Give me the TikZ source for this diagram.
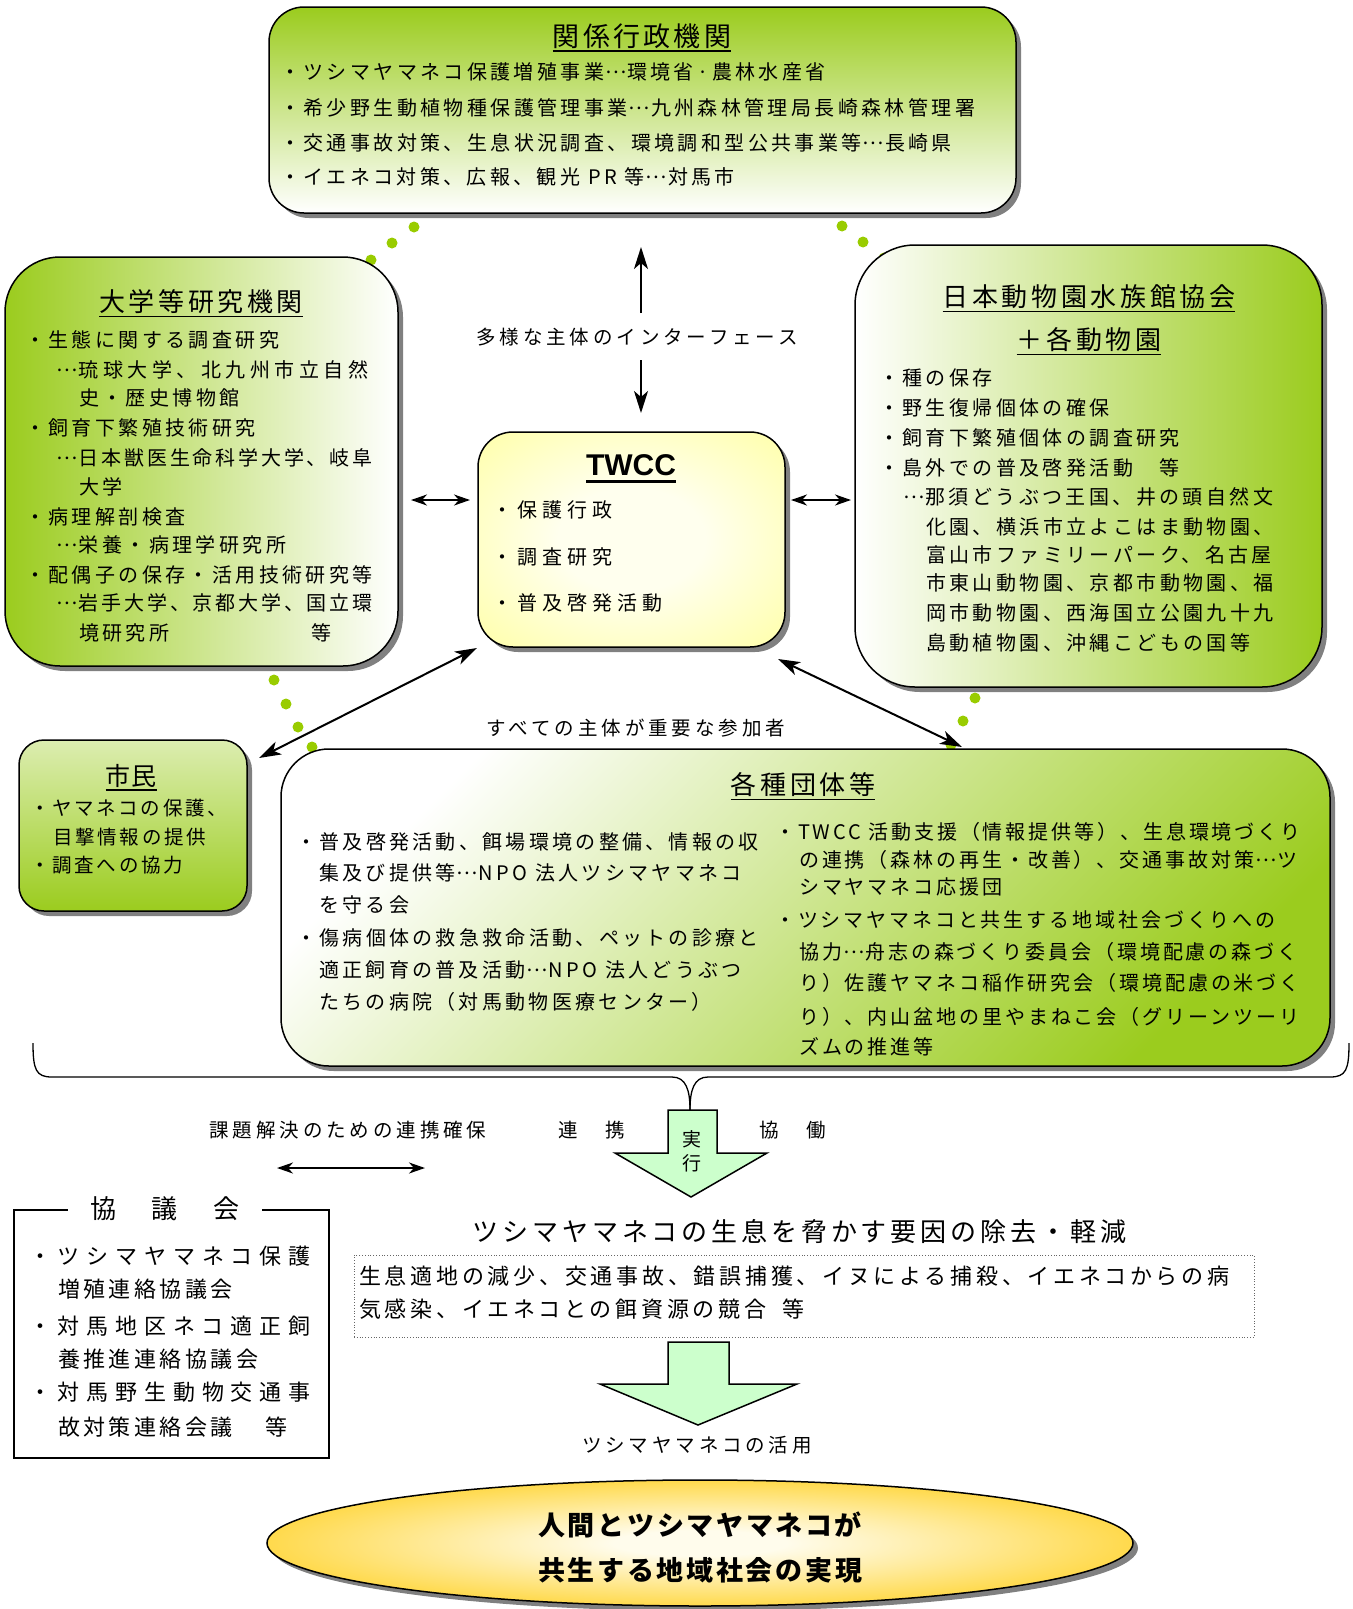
\documentclass[tikz,border=0pt]{standalone}
\usepackage{fontspec}
\setmainfont{Noto Sans CJK JP}
\newfontfamily\arialf{Liberation Sans}
\usetikzlibrary{arrows.meta,shadows,shapes.geometric}
\definecolor{gcol}{RGB}{155,204,30}
\definecolor{dotc}{RGB}{153,204,0}
\definecolor{arrg}{RGB}{204,255,204}
\definecolor{shad}{RGB}{128,128,128}
\definecolor{yc0}{RGB}{255,255,238}
\definecolor{yc1}{RGB}{255,255,150}
\definecolor{ec0}{RGB}{255,252,236}
\definecolor{ec1}{RGB}{255,214,60}
\definecolor{ec2}{RGB}{246,190,0}
\pgfdeclareradialshading{twccsh}{\pgfpoint{0bp}{0bp}}{color(0bp)=(yc0); color(12bp)=(yc0); color(42bp)=(yc1); color(50bp)=(yc1)}
\pgfdeclareradialshading{ellsh}{\pgfpoint{0bp}{0bp}}{color(0bp)=(ec0); color(5bp)=(ec0); color(27bp)=(ec1); color(40bp)=(ec2); color(50bp)=(ec2)}
\newcommand\jfs[2]{\fontsize{#1pt}{#1pt}\selectfont\addfontfeatures{LetterSpace=#2}}
\newcommand\el{\makebox[1.16em][c]{\raisebox{0.31em}{…}}}
\newsavebox\myulbox
\newcommand\myul[3]{\sbox\myulbox{#3}\rlap{\rule[-#1]{\wd\myulbox}{#2}}\usebox\myulbox}
\tikzset{
  boxs/.style={draw=black, line width=1.5pt, drop shadow={shadow xshift=5pt, shadow yshift=-5pt, fill=shad, opacity=1}},
  ln/.style={anchor=base west, inner sep=0pt, yshift={-0.36*#1pt}},
  cn/.style={anchor=base, inner sep=0pt, yshift={-0.36*#1pt}},
  gdot/.style={circle, fill=dotc, inner sep=0pt, minimum size=11pt},
  arr/.style={line width=2pt},
  bigtip/.style={-{Stealth[length=22pt,width=14pt,inset=6pt]}},
  dbltip/.style={{Stealth[length=22pt,width=14pt,inset=6pt]}-{Stealth[length=22pt,width=14pt,inset=6pt]}},
  smalldbl/.style={{Stealth[length=16pt,width=11pt,inset=5pt]}-{Stealth[length=16pt,width=11pt,inset=5pt]}},
  bigarr/.style={draw=black, line width=1.5pt, fill=arrg, line join=miter},
}
\begin{document}
\begin{tikzpicture}[x=1pt,y=-1pt]
\fill[white] (0,0) rectangle (1352,1609);
\useasboundingbox (0,0) rectangle (1352,1609);

% connecting dots
\node[gdot] (d1) at (414,227) {};
\node[gdot] (d2) at (392,243) {};
\node[gdot] (d3) at (371,260) {};
\node[gdot] (d4) at (842,226) {};
\node[gdot] (d5) at (863,242) {};
\node[gdot] (d6) at (884,258) {};
\node[gdot] (d7) at (274,680) {};
\node[gdot] (d8) at (286,704) {};
\node[gdot] (d9) at (298,727) {};
\node[gdot] (d10) at (312,747) {};
\node[gdot] (d11) at (975,698) {};
\node[gdot] (d12) at (963,721) {};
\node[gdot] (d13) at (951,745) {};

% brace
\draw[line width=1.3pt] (33,1043) .. controls (33,1070) and (36,1077) .. (52,1077) -- (672,1077) .. controls (686,1077) and (690,1090) .. (690,1110);
\draw[line width=1.3pt] (1349,1043) .. controls (1349,1070) and (1346,1077) .. (1330,1077) -- (708,1077) .. controls (694,1077) and (690,1090) .. (690,1110);

% boxes
\node[boxs, rounded corners=35pt, minimum width=747pt, minimum height=206pt, top color=gcol, bottom color=white] (gov) at (642.5,110) {};
\node[boxs, rounded corners=55pt, minimum width=393pt, minimum height=409pt, left color=gcol, right color=white] (univ) at (201.5,461.5) {};
\node[boxs, rounded corners=60pt, minimum width=467pt, minimum height=442pt, left color=white, right color=gcol] (zoo) at (1088.5,466) {};
\node[boxs, rounded corners=35pt, minimum width=307pt, minimum height=215pt, shading=twccsh] (twcc) at (631.5,539.5) {};
\node[boxs, rounded corners=25pt, minimum width=228pt, minimum height=171pt, top color=gcol!35!white, bottom color=gcol] (citz) at (133,825.5) {};
\node[boxs, rounded corners=48pt, minimum width=1049pt, minimum height=317pt, top color=white, bottom color=gcol, shading angle=45] (orgs) at (805.5,907.5) {};
\node[draw=black, line width=1.5pt, fill=white, minimum width=315pt, minimum height=248pt] (kyo) at (171.5,1334) {};
\node[draw=black!60, dotted, line width=0.8pt, minimum width=900pt, minimum height=82pt] (thr) at (804,1296) {};
\node[boxs, ellipse, minimum width=866pt, minimum height=126pt, shading=ellsh] (goal) at (700,1543) {};

% government box text
\node[cn=27] (gt) at (642,37) {\myul{5.5pt}{2pt}{\jfs{27}{12}関係行政機関}};
\node[ln=20] (g1) at (280,72) {\jfs{20}{17}・ツシマヤマネコ保護増殖事業\el 環境省·農林水産省};
\node[ln=20] (g2) at (280,108) {\jfs{20}{17}・希少野生動植物種保護管理事業\el 九州森林管理局長崎森林管理署};
\node[ln=20] (g3) at (280,143) {\jfs{20}{17}・交通事故対策、生息状況調査、環境調和型公共事業等\el 長崎県};
\node[ln=20] (g4) at (280,177) {\jfs{20}{17}・イエネコ対策、広報、観光 PR 等\el 対馬市};

% university box text
\node[cn=26] (ut) at (201,302) {\myul{6pt}{1.8pt}{\jfs{26}{14}大学等研究機関}};
\node[ln=20] (u1) at (25,340) {\jfs{20}{17}・生態に関する調査研究};
\node[ln=20] (u2) at (55.5,370) {\jfs{20}{22.5}\el 琉球大学、北九州市立自然};
\node[ln=20] (u3) at (79,398) {\jfs{20}{17}史・歴史博物館};
\node[ln=20] (u4) at (25,428) {\jfs{20}{17}・飼育下繁殖技術研究};
\node[ln=20] (u5) at (55.5,458) {\jfs{20}{14}\el 日本獣医生命科学大学、岐阜};
\node[ln=20] (u6) at (79,487) {\jfs{20}{17}大学};
\node[ln=20] (u7) at (25,517) {\jfs{20}{17}・病理解剖検査};
\node[ln=20] (u8) at (55.5,545) {\jfs{20}{17}\el 栄養・病理学研究所};
\node[ln=20] (u9) at (25,575) {\jfs{20}{17}・配偶子の保存・活用技術研究等};
\node[ln=20] (u10) at (55.5,603) {\jfs{20}{14}\el 岩手大学、京都大学、国立環};
\node[ln=20] (u11) at (79,633) {\jfs{20}{17}境研究所\hspace*{142pt}等};

% zoo box text
\node[cn=26] (zt1) at (1089,297) {\myul{6pt}{1.8pt}{\jfs{26}{14}日本動物園水族館協会}};
\node[cn=26] (zt2) at (1089,340) {\myul{6pt}{1.8pt}{\jfs{26}{14}＋各動物園}};
\node[ln=20] (z1) at (879,378) {\jfs{20}{17}・種の保存};
\node[ln=20] (z2) at (879,408) {\jfs{20}{17}・野生復帰個体の確保};
\node[ln=20] (z3) at (879,438) {\jfs{20}{17}・飼育下繁殖個体の調査研究};
\node[ln=20] (z4) at (879,468) {\jfs{20}{17}・島外での普及啓発活動　等};
\node[ln=20] (z5) at (902,497) {\jfs{20}{17}\el 那須どうぶつ王国、井の頭自然文};
\node[ln=20] (z6) at (926,527) {\jfs{20}{17}化園、横浜市立よこはま動物園、};
\node[ln=20] (z7) at (926,555) {\jfs{20}{17}富山市ファミリーパーク、名古屋};
\node[ln=20] (z8) at (926,583) {\jfs{20}{17}市東山動物園、京都市動物園、福};
\node[ln=20] (z9) at (926,613) {\jfs{20}{17}岡市動物園、西海国立公園九十九};
\node[ln=20] (z10) at (926,643) {\jfs{20}{17}島動植物園、沖縄こどもの国等};

% TWCC box text
\node[cn=30] (tt) at (631,465) {\myul{7.5pt}{3pt}{\arialf\bfseries\fontsize{30pt}{30pt}\selectfont TWCC}};
\node[ln=20] (t1) at (492,510) {\jfs{20}{25}・保護行政};
\node[ln=20] (t2) at (492,557) {\jfs{20}{25}・調査研究};
\node[ln=20] (t3) at (492,603) {\jfs{20}{25}・普及啓発活動};

% citizens box text
\node[cn=25] (ct) at (131,776) {\myul{6pt}{1.8pt}{\jfs{25}{4}市民}};
\node[ln=19.5] (c1) at (30,808) {\jfs{19.5}{14}・ヤマネコの保護、};
\node[ln=19.5] (c2) at (53,837) {\jfs{19.5}{14}目撃情報の提供};
\node[ln=19.5] (c3) at (30,865) {\jfs{19.5}{14}・調査への協力};

% organisations box text
\node[cn=26] (ot) at (803,785) {\myul{6pt}{1.8pt}{\jfs{26}{14}各種団体等}};
\node[ln=20] (oa1) at (296,842) {\jfs{20}{16.5}・普及啓発活動、餌場環境の整備、情報の収};
\node[ln=20] (oa2) at (319,873) {\jfs{20}{16.5}集及び提供等\el NPO 法人ツシマヤマネコ};
\node[ln=20] (oa3) at (319,905) {\jfs{20}{16.5}を守る会};
\node[ln=20] (oa4) at (296,938) {\jfs{20}{16.5}・傷病個体の救急救命活動、ペットの診療と};
\node[ln=20] (oa5) at (319,970) {\jfs{20}{16.5}適正飼育の普及活動\el NPO 法人どうぶつ};
\node[ln=20] (oa6) at (319,1002) {\jfs{20}{16.5}たちの病院（対馬動物医療センター）};
\node[ln=20] (ob1) at (775,832) {\jfs{20}{14.5}・TWCC 活動支援（情報提供等）、生息環境づくり};
\node[ln=20] (ob2) at (799,860) {\jfs{20}{14.5}の連携（森林の再生・改善）、交通事故対策\el ツ};
\node[ln=20] (ob3) at (799,887) {\jfs{20}{14.5}シマヤマネコ応援団};
\node[ln=20] (ob4) at (775,920) {\jfs{20}{14.5}・ツシマヤマネコと共生する地域社会づくりへの};
\node[ln=20] (ob5) at (799,952) {\jfs{20}{14.5}協力\el 舟志の森づくり委員会（環境配慮の森づく};
\node[ln=20] (ob6) at (799,983) {\jfs{20}{14.5}り）佐護ヤマネコ稲作研究会（環境配慮の米づく};
\node[ln=20] (ob7) at (799,1017) {\jfs{20}{14.5}り）、内山盆地の里やまねこ会（グリーンツーリ};
\node[ln=20] (ob8) at (799,1047) {\jfs{20}{14.5}ズムの推進等};

% council box text
\node[cn=26, fill=white, inner xsep=22pt] (kt) at (165,1209) {\jfs{26}{19}協　議　会};
\node[ln=22] (k1) at (29,1257) {\jfs{22}{31}・ツシマヤマネコ保護};
\node[ln=22] (k2) at (58,1290) {\jfs{22}{15.5}増殖連絡協議会};
\node[ln=22] (k3) at (29,1327) {\jfs{22}{31}・対馬地区ネコ適正飼};
\node[ln=22] (k4) at (58,1360) {\jfs{22}{15.5}養推進連絡協議会};
\node[ln=22] (k5) at (29,1393) {\jfs{22}{31}・対馬野生動物交通事};
\node[ln=22] (k6) at (58,1428) {\jfs{22}{15.5}故対策連絡会議\hspace*{33pt}等};

% free labels
\node[cn=19.5] (lb1) at (637,337) {\jfs{19.5}{20}多様な主体のインターフェース};
\node[cn=19.5] (lb2) at (636,728) {\jfs{19.5}{20}すべての主体が重要な参加者};
\node[cn=19.5] (lb3) at (348,1130) {\jfs{19.5}{20}課題解決のための連携確保};
\node[cn=19.5] (lb4) at (592,1130) {\jfs{19.5}{20}連　携};
\node[cn=19.5] (lb5) at (793,1130) {\jfs{19.5}{20}協　働};
\node[cn=19.5] (lb6) at (697,1445) {\jfs{19.5}{20}ツシマヤマネコの活用};

% big arrows
\draw[bigarr] (668,1110) -- (717,1110) -- (717,1153) -- (767,1153) -- (691,1197) -- (615,1153) -- (668,1153) -- cycle;
\node[cn=19] (ex1) at (692,1140) {\jfs{19}{0}実};
\node[cn=19] (ex2) at (692,1164) {\jfs{19}{0}行};
\draw[bigarr] (668,1342) -- (729,1342) -- (729,1384) -- (797,1384) -- (698,1425) -- (600,1384) -- (668,1384) -- cycle;

% threats
\node[cn=26] (h0) at (799.5,1232) {\jfs{26}{15}ツシマヤマネコの生息を脅かす要因の除去・軽減};
\node[ln=22] (r1) at (359,1277) {\jfs{22}{17}生息適地の減少、交通事故、錯誤捕獲、イヌによる捕殺、イエネコからの病};
\node[ln=22] (r2) at (359,1310) {\jfs{22}{17}気感染、イエネコとの餌資源の競合\hspace*{16pt}等};

% goal text
\node[cn=27] (e1) at (700,1526) {\bfseries\jfs{27}{10}人間とツシマヤマネコが};
\node[cn=27] (e2) at (700,1571) {\bfseries\jfs{27}{10}共生する地域社会の実現};

% thin arrows
\coordinate (upS) at (641,313);
\coordinate (upE) at (641,247);
\coordinate (dnS) at (641,360);
\coordinate (dnE) at (641,413);
\coordinate (hlA) at (411,500);
\coordinate (hlB) at (470,500);
\coordinate (hrA) at (791,500);
\coordinate (hrB) at (851,500);
\coordinate (dlA) at (477,648);
\coordinate (dlB) at (259,758);
\coordinate (drA) at (778,659);
\coordinate (drB) at (962,747);
\coordinate (bhA) at (277,1168);
\coordinate (bhB) at (425,1168);
\draw[arr, bigtip] (upS) -- (upE);
\draw[arr, bigtip] (dnS) -- (dnE);
\draw[arr, smalldbl] (hlA) -- (hlB);
\draw[arr, smalldbl] (hrA) -- (hrB);
\draw[arr, dbltip] (dlA) -- (dlB);
\draw[arr, dbltip] (drA) -- (drB);
\draw[arr, smalldbl] (bhA) -- (bhB);
\end{tikzpicture}
\end{document}
